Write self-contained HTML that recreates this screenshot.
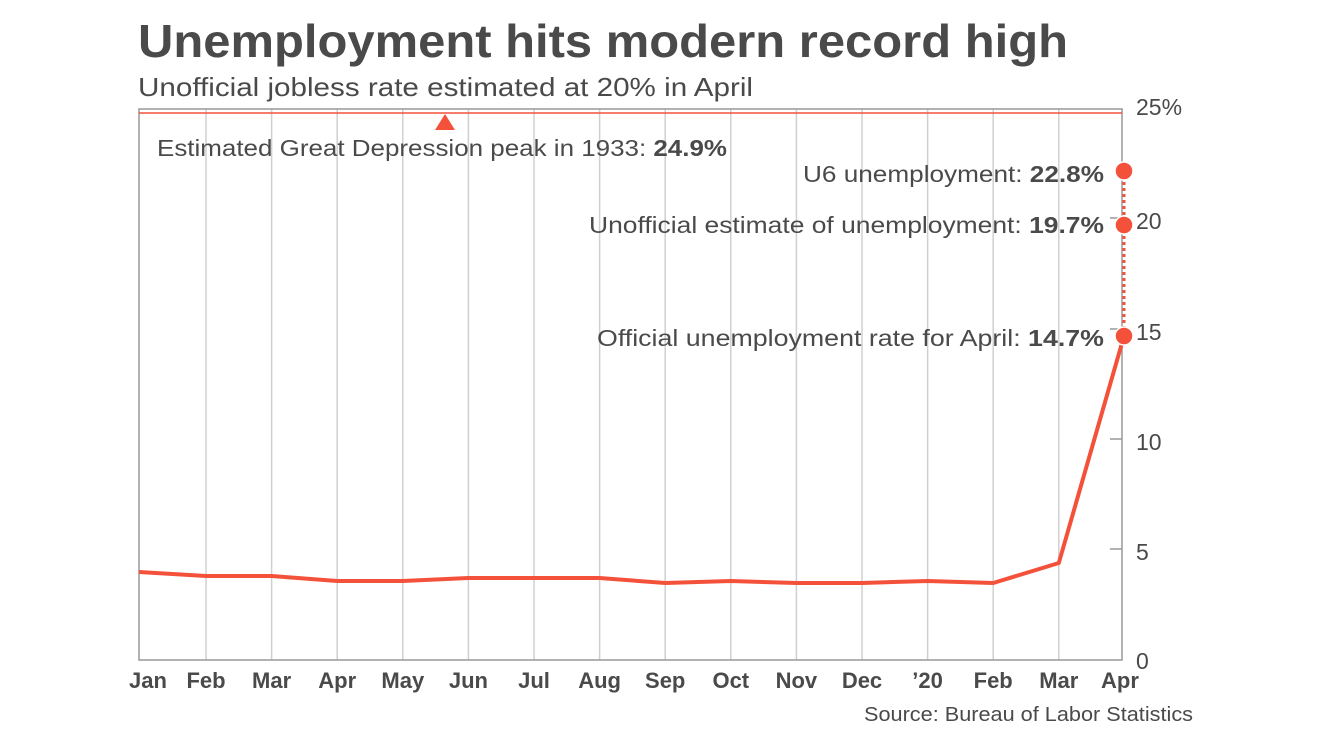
<!DOCTYPE html>
<html><head><meta charset="utf-8"><style>
body{margin:0;background:#fff;width:1320px;height:742px;overflow:hidden;font-family:"Liberation Sans",sans-serif}
</style></head><body>
<svg width="1320" height="742" xmlns="http://www.w3.org/2000/svg" font-family="Liberation Sans, sans-serif">
<text x="138" y="57" font-size="46" font-weight="bold" fill="#4a4a4a" textLength="930" lengthAdjust="spacingAndGlyphs">Unemployment hits modern record high</text>
<text x="138" y="96" font-size="26" fill="#4a4a4a" textLength="615" lengthAdjust="spacingAndGlyphs">Unofficial jobless rate estimated at 20% in April</text>
<g stroke="#d0d0d0" stroke-width="1.5">
<line x1="206" y1="109" x2="206" y2="660"/><line x1="271.6" y1="109" x2="271.6" y2="660"/><line x1="337.2" y1="109" x2="337.2" y2="660"/><line x1="402.8" y1="109" x2="402.8" y2="660"/><line x1="468.4" y1="109" x2="468.4" y2="660"/><line x1="534" y1="109" x2="534" y2="660"/><line x1="599.6" y1="109" x2="599.6" y2="660"/><line x1="665.2" y1="109" x2="665.2" y2="660"/><line x1="730.8" y1="109" x2="730.8" y2="660"/><line x1="796.4" y1="109" x2="796.4" y2="660"/><line x1="862" y1="109" x2="862" y2="660"/><line x1="927.6" y1="109" x2="927.6" y2="660"/><line x1="993.2" y1="109" x2="993.2" y2="660"/><line x1="1058.8" y1="109" x2="1058.8" y2="660"/>
</g>
<rect x="139" y="109" width="983" height="551" fill="none" stroke="#999" stroke-width="1.5"/>
<g stroke="#999" stroke-width="1.5">
<line x1="1110" y1="218" x2="1122" y2="218"/><line x1="1110" y1="329" x2="1122" y2="329"/><line x1="1110" y1="439" x2="1122" y2="439"/><line x1="1110" y1="549" x2="1122" y2="549"/>
</g>
<line x1="139" y1="113" x2="1122" y2="113" stroke="#f4513a" stroke-width="1.5"/>
<polygon points="445,114 435,130 455,130" fill="#f4513a"/>
<text x="157" y="156" font-size="23" fill="#4a4a4a" textLength="570" lengthAdjust="spacingAndGlyphs">Estimated Great Depression peak in 1933: <tspan font-weight="bold">24.9%</tspan></text>
<g font-size="23" fill="#4a4a4a">
<text x="803" y="182" textLength="301" lengthAdjust="spacingAndGlyphs">U6 unemployment: <tspan font-weight="bold">22.8%</tspan></text>
<text x="589" y="233" textLength="515" lengthAdjust="spacingAndGlyphs">Unofficial estimate of unemployment: <tspan font-weight="bold">19.7%</tspan></text>
<text x="597" y="346" textLength="507" lengthAdjust="spacingAndGlyphs">Official unemployment rate for April: <tspan font-weight="bold">14.7%</tspan></text>
</g>
<g font-size="23" fill="#4a4a4a">
<text x="1136" y="115">25%</text><text x="1136" y="229">20</text><text x="1136" y="340">15</text><text x="1136" y="450">10</text><text x="1136" y="560">5</text><text x="1136" y="669">0</text>
</g>
<line x1="1124" y1="170" x2="1124" y2="335" stroke="#f4513a" stroke-width="3" stroke-dasharray="3,3"/>
<polyline fill="none" stroke="#f4513a" stroke-width="4" stroke-linejoin="round" points="139,572 206,576 271.6,576 337.2,581 402.8,581 468.4,578 534,578 599.6,578 665.2,583 730.8,581 796.4,583 862,583 927.6,581 993.2,583 1058.8,563 1124,336"/>
<g fill="#f4513a" stroke="#fff" stroke-width="1.5">
<circle cx="1124" cy="171" r="9"/><circle cx="1124" cy="225" r="9"/><circle cx="1124" cy="336" r="9"/>
</g>
<g font-size="22" font-weight="bold" fill="#4a4a4a" text-anchor="middle">
<text x="148" y="688">Jan</text><text x="206" y="688">Feb</text><text x="271.6" y="688">Mar</text><text x="337.2" y="688">Apr</text><text x="402.8" y="688">May</text><text x="468.4" y="688">Jun</text><text x="534" y="688">Jul</text><text x="599.6" y="688">Aug</text><text x="665.2" y="688">Sep</text><text x="730.8" y="688">Oct</text><text x="796.4" y="688">Nov</text><text x="862" y="688">Dec</text><text x="927.6" y="688">’20</text><text x="993.2" y="688">Feb</text><text x="1058.8" y="688">Mar</text><text x="1120" y="688">Apr</text>
</g>
<text x="864" y="721" font-size="20" fill="#4a4a4a" textLength="329" lengthAdjust="spacingAndGlyphs">Source: Bureau of Labor Statistics</text>
</svg>
</body></html>
